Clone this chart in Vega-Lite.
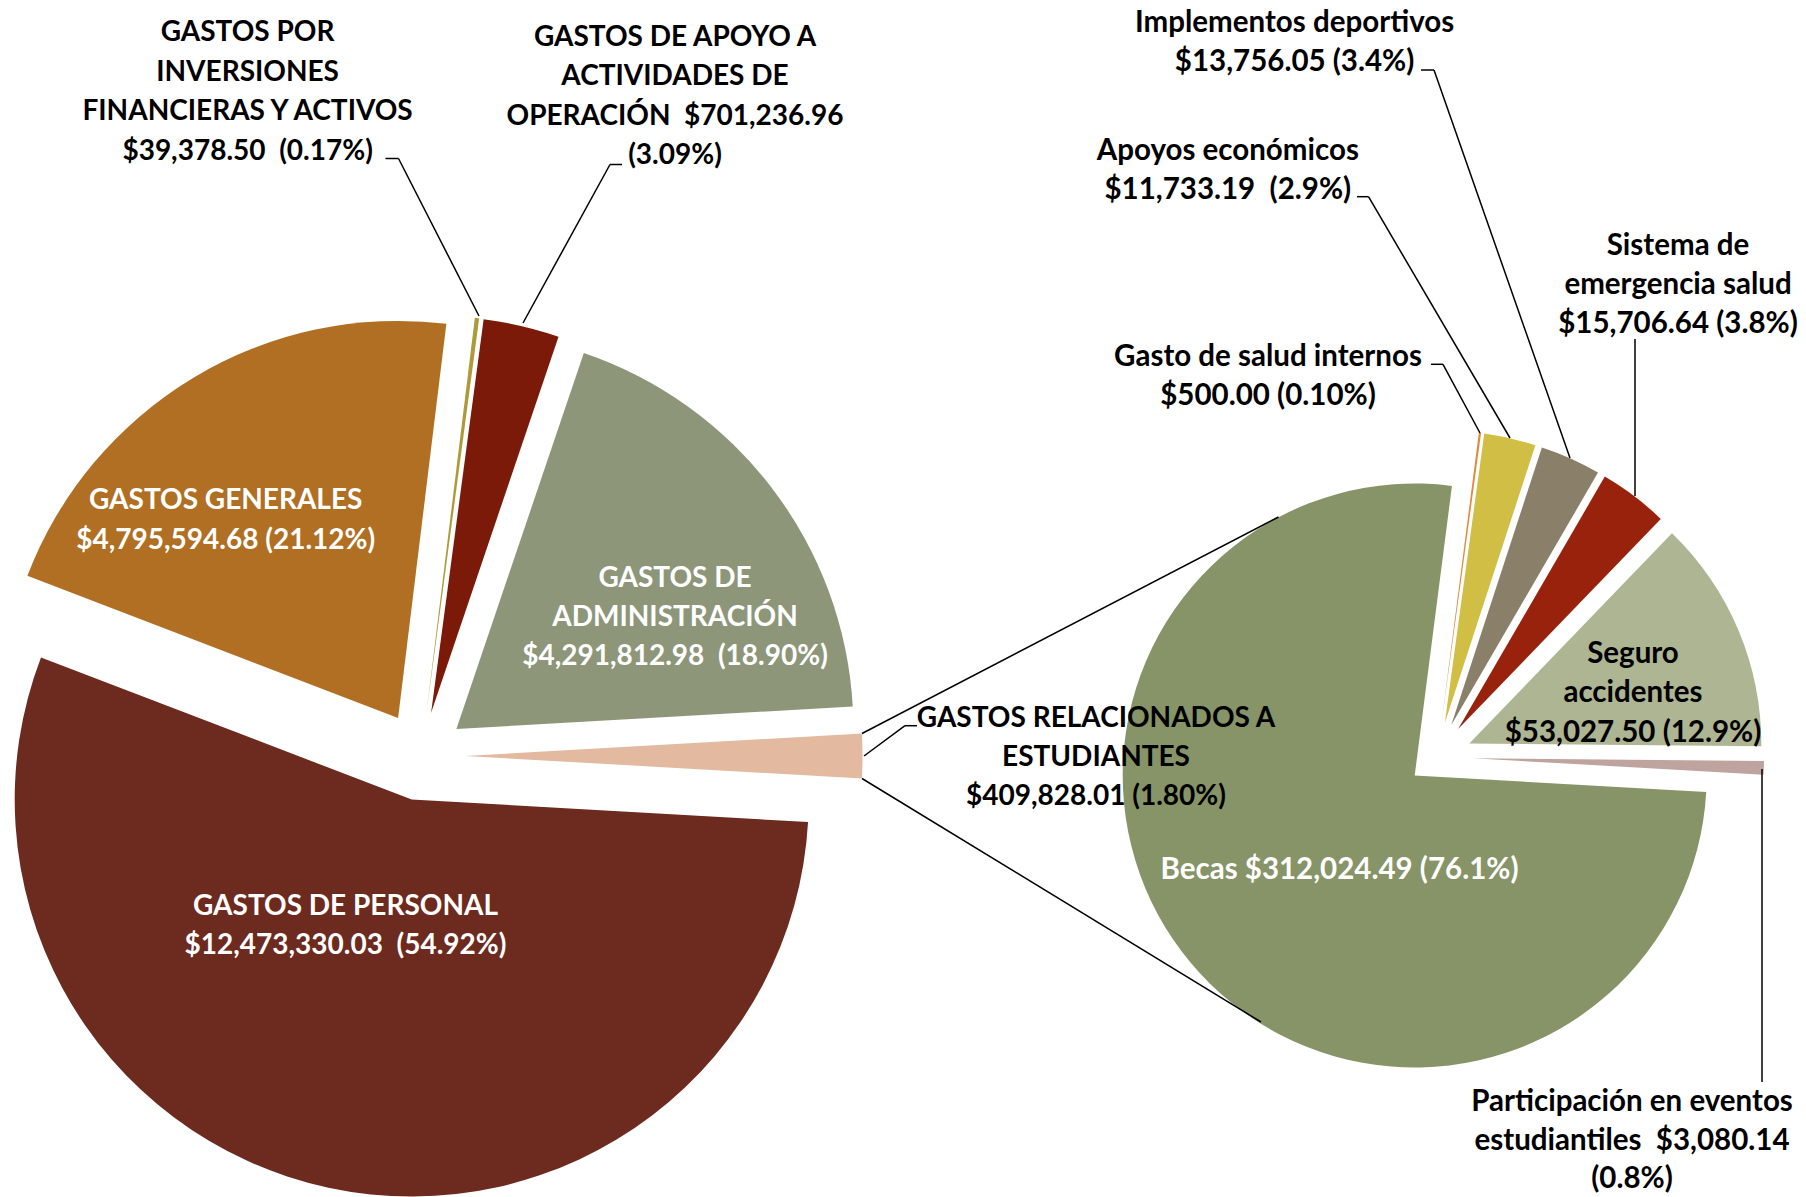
{
  "$schema": "https://vega.github.io/schema/vega-lite/v6.json",
  "width": 1806,
  "height": 1197,
  "autosize": {"type": "none"},
  "padding": 0,
  "background": "white",
  "config": {
    "view": {"stroke": null},
    "text": {"font": "Lato", "fontWeight": "bold", "fontSize": 28, "lineHeight": 39.4, "lineBreak": "\n", "align": "center", "baseline": "middle"},
    "rule": {"color": "black", "strokeWidth": 1.5}
  },
  "datasets": {
    "main": [
      {"order": 1, "name": "Estudiantes", "value": 409828.01, "label": "GASTOS RELACIONADOS A\nESTUDIANTES\n$409,828.01 (1.80%)"},
      {"order": 2, "name": "Personal", "value": 12473330.03, "label": "GASTOS DE PERSONAL\n$12,473,330.03\u00a0 (54.92%)"},
      {"order": 3, "name": "Generales", "value": 4795594.68, "label": "GASTOS GENERALES\n$4,795,594.68 (21.12%)"},
      {"order": 4, "name": "Inversiones", "value": 39378.50, "label": "GASTOS POR\nINVERSIONES\nFINANCIERAS Y ACTIVOS\n$39,378.50\u00a0 (0.17%)"},
      {"order": 5, "name": "Apoyo", "value": 701236.96, "label": "GASTOS DE APOYO A\nACTIVIDADES DE\nOPERACIÓN\u00a0 $701,236.96\n(3.09%)"},
      {"order": 6, "name": "Administracion", "value": 4291812.98, "label": "GASTOS DE\nADMINISTRACIÓN\n$4,291,812.98\u00a0 (18.90%)"}
    ],
    "sub": [
      {"order": 1, "name": "Becas", "value": 312024.49, "label": "Becas $312,024.49 (76.1%)"},
      {"order": 2, "name": "Salud", "value": 500.00, "label": "Gasto de salud internos\n$500.00 (0.10%)"},
      {"order": 3, "name": "Apoyos", "value": 11733.19, "label": "Apoyos económicos\n$11,733.19\u00a0 (2.9%)"},
      {"order": 4, "name": "Implementos", "value": 13756.05, "label": "Implementos deportivos\n$13,756.05 (3.4%)"},
      {"order": 5, "name": "Sistema", "value": 15706.64, "label": "Sistema de\nemergencia salud\n$15,706.64 (3.8%)"},
      {"order": 6, "name": "Seguro", "value": 53027.50, "label": "Seguro\naccidentes\n$53,027.50 (12.9%)"},
      {"order": 7, "name": "Participacion", "value": 3080.14, "label": "Participación en eventos\nestudiantiles\u00a0 $3,080.14\n(0.8%)"}
    ]
  },
  "resolve": {"scale": {"theta": "independent"}},
  "layer": [
    {
      "data": {"name": "main"},
      "transform": [{"stack": "value", "groupby": [], "sort": [{"field": "order", "order": "ascending"}], "offset": "normalize", "as": ["s", "e"]}],
      "layer": [
        {"transform": [{"filter": "datum.name === 'Estudiantes'"}],
         "mark": {"type": "arc", "x": 465.5, "y": 756.0, "outerRadius": 397, "color": "#E3B9A0"},
         "encoding": {"theta": {"field": "s", "type": "quantitative", "scale": {"domain": [0, 1], "range": [1.514112, 7.797297]}}, "theta2": {"field": "e"}}},
        {"transform": [{"filter": "datum.name === 'Personal'"}],
         "mark": {"type": "arc", "x": 411.7, "y": 799.5, "outerRadius": 397, "color": "#6D2A1E"},
         "encoding": {"theta": {"field": "s", "type": "quantitative", "scale": {"domain": [0, 1], "range": [1.514112, 7.797297]}}, "theta2": {"field": "e"}}},
        {"transform": [{"filter": "datum.name === 'Generales'"}],
         "mark": {"type": "arc", "x": 398.1, "y": 717.9, "outerRadius": 397, "color": "#B06F22"},
         "encoding": {"theta": {"field": "s", "type": "quantitative", "scale": {"domain": [0, 1], "range": [1.514112, 7.797297]}}, "theta2": {"field": "e"}}},
        {"transform": [{"filter": "datum.name === 'Inversiones'"}],
         "mark": {"type": "arc", "x": 426.6, "y": 711.9, "outerRadius": 397, "color": "#AD9B3A"},
         "encoding": {"theta": {"field": "s", "type": "quantitative", "scale": {"domain": [0, 1], "range": [1.514112, 7.797297]}}, "theta2": {"field": "e"}}},
        {"transform": [{"filter": "datum.name === 'Apoyo'"}],
         "mark": {"type": "arc", "x": 431.1, "y": 712.7, "outerRadius": 397, "color": "#7B1A08"},
         "encoding": {"theta": {"field": "s", "type": "quantitative", "scale": {"domain": [0, 1], "range": [1.514112, 7.797297]}}, "theta2": {"field": "e"}}},
        {"transform": [{"filter": "datum.name === 'Administracion'"}],
         "mark": {"type": "arc", "x": 456.4, "y": 729.0, "outerRadius": 397, "color": "#8D9679"},
         "encoding": {"theta": {"field": "s", "type": "quantitative", "scale": {"domain": [0, 1], "range": [1.514112, 7.797297]}}, "theta2": {"field": "e"}}}
      ]
    },
    {
      "data": {"name": "sub"},
      "transform": [{"stack": "value", "groupby": [], "sort": [{"field": "order", "order": "ascending"}], "offset": "normalize", "as": ["s", "e"]}],
      "layer": [
        {"transform": [{"filter": "datum.name === 'Becas'"}],
         "mark": {"type": "arc", "x": 1414.7, "y": 775.5, "outerRadius": 292, "color": "#879467"},
         "encoding": {"theta": {"field": "s", "type": "quantitative", "scale": {"domain": [0, 1], "range": [1.627345, 7.910530]}}, "theta2": {"field": "e"}}},
        {"transform": [{"filter": "datum.name === 'Salud'"}],
         "mark": {"type": "arc", "x": 1441.6, "y": 722.3, "outerRadius": 292, "color": "#DF8A3A"},
         "encoding": {"theta": {"field": "s", "type": "quantitative", "scale": {"domain": [0, 1], "range": [1.627345, 7.910530]}}, "theta2": {"field": "e"}}},
        {"transform": [{"filter": "datum.name === 'Apoyos'"}],
         "mark": {"type": "arc", "x": 1444.8, "y": 722.9, "outerRadius": 292, "color": "#D0BE45"},
         "encoding": {"theta": {"field": "s", "type": "quantitative", "scale": {"domain": [0, 1], "range": [1.627345, 7.910530]}}, "theta2": {"field": "e"}}},
        {"transform": [{"filter": "datum.name === 'Implementos'"}],
         "mark": {"type": "arc", "x": 1451.3, "y": 725.1, "outerRadius": 292, "color": "#8A7F69"},
         "encoding": {"theta": {"field": "s", "type": "quantitative", "scale": {"domain": [0, 1], "range": [1.627345, 7.910530]}}, "theta2": {"field": "e"}}},
        {"transform": [{"filter": "datum.name === 'Sistema'"}],
         "mark": {"type": "arc", "x": 1458.1, "y": 729.1, "outerRadius": 292, "color": "#99220D"},
         "encoding": {"theta": {"field": "s", "type": "quantitative", "scale": {"domain": [0, 1], "range": [1.627345, 7.910530]}}, "theta2": {"field": "e"}}},
        {"transform": [{"filter": "datum.name === 'Seguro'"}],
         "mark": {"type": "arc", "x": 1469.3, "y": 743.5, "outerRadius": 292, "color": "#ADB593"},
         "encoding": {"theta": {"field": "s", "type": "quantitative", "scale": {"domain": [0, 1], "range": [1.627345, 7.910530]}}, "theta2": {"field": "e"}}},
        {"transform": [{"filter": "datum.name === 'Participacion'"}],
         "mark": {"type": "arc", "x": 1472.0, "y": 758.2, "outerRadius": 292, "color": "#BFA39E"},
         "encoding": {"theta": {"field": "s", "type": "quantitative", "scale": {"domain": [0, 1], "range": [1.627345, 7.910530]}}, "theta2": {"field": "e"}}}
      ]
    },
    {
      "data": {"name": "main"},
      "layer": [
        {"transform": [{"filter": "datum.name === 'Estudiantes'"}],
         "layer": [
           {"mark": {"type": "text", "x": 1096, "y": 718.5, "color": "black"}, "encoding": {"text": {"field": "label", "type": "nominal"}}},
           {"mark": {"type": "rule"}, "encoding": {"x": {"value": 905}, "y": {"value": 725.7}, "x2": {"value": 917}, "y2": {"value": 725.7}}},
           {"mark": {"type": "rule"}, "encoding": {"x": {"value": 905}, "y": {"value": 725.7}, "x2": {"value": 864}, "y2": {"value": 756}}},
           {"mark": {"type": "rule"}, "encoding": {"x": {"value": 862}, "y": {"value": 733.5}, "x2": {"value": 1278.5}, "y2": {"value": 517}}},
           {"mark": {"type": "rule"}, "encoding": {"x": {"value": 862}, "y": {"value": 778.5}, "x2": {"value": 1261}, "y2": {"value": 1022}}}
         ]},
        {"transform": [{"filter": "datum.name === 'Personal'"}],
         "mark": {"type": "text", "x": 345.5, "y": 906.5, "color": "white"}, "encoding": {"text": {"field": "label", "type": "nominal"}}},
        {"transform": [{"filter": "datum.name === 'Generales'"}],
         "mark": {"type": "text", "x": 225.7, "y": 501.2, "color": "white"}, "encoding": {"text": {"field": "label", "type": "nominal"}}},
        {"transform": [{"filter": "datum.name === 'Inversiones'"}],
         "layer": [
           {"mark": {"type": "text", "x": 247.6, "y": 33.4, "color": "black"}, "encoding": {"text": {"field": "label", "type": "nominal"}}},
           {"mark": {"type": "rule"}, "encoding": {"x": {"value": 385.5}, "y": {"value": 158.5}, "x2": {"value": 398.5}, "y2": {"value": 158.5}}},
           {"mark": {"type": "rule"}, "encoding": {"x": {"value": 398.5}, "y": {"value": 158.5}, "x2": {"value": 479}, "y2": {"value": 316}}}
         ]},
        {"transform": [{"filter": "datum.name === 'Apoyo'"}],
         "layer": [
           {"mark": {"type": "text", "x": 675, "y": 38, "color": "black"}, "encoding": {"text": {"field": "label", "type": "nominal"}}},
           {"mark": {"type": "rule"}, "encoding": {"x": {"value": 610}, "y": {"value": 164.5}, "x2": {"value": 622}, "y2": {"value": 164.5}}},
           {"mark": {"type": "rule"}, "encoding": {"x": {"value": 610}, "y": {"value": 164.5}, "x2": {"value": 523}, "y2": {"value": 323}}}
         ]},
        {"transform": [{"filter": "datum.name === 'Administracion'"}],
         "mark": {"type": "text", "x": 675, "y": 578.5, "color": "white"}, "encoding": {"text": {"field": "label", "type": "nominal"}}}
      ]
    },
    {
      "data": {"name": "sub"},
      "layer": [
        {"transform": [{"filter": "datum.name === 'Becas'"}],
         "mark": {"type": "text", "x": 1339.5, "y": 869.5, "color": "white", "fontSize": 29.5}, "encoding": {"text": {"field": "label", "type": "nominal"}}},
        {"transform": [{"filter": "datum.name === 'Salud'"}],
         "layer": [
           {"mark": {"type": "text", "x": 1268, "y": 357, "color": "black", "fontSize": 29.5}, "encoding": {"text": {"field": "label", "type": "nominal"}}},
           {"mark": {"type": "rule"}, "encoding": {"x": {"value": 1431}, "y": {"value": 364.3}, "x2": {"value": 1443}, "y2": {"value": 364.3}}},
           {"mark": {"type": "rule"}, "encoding": {"x": {"value": 1443}, "y": {"value": 364.3}, "x2": {"value": 1480}, "y2": {"value": 433}}}
         ]},
        {"transform": [{"filter": "datum.name === 'Apoyos'"}],
         "layer": [
           {"mark": {"type": "text", "x": 1227.8, "y": 151, "color": "black", "fontSize": 29.5}, "encoding": {"text": {"field": "label", "type": "nominal"}}},
           {"mark": {"type": "rule"}, "encoding": {"x": {"value": 1357}, "y": {"value": 196.7}, "x2": {"value": 1368.5}, "y2": {"value": 196.7}}},
           {"mark": {"type": "rule"}, "encoding": {"x": {"value": 1368.5}, "y": {"value": 196.7}, "x2": {"value": 1510}, "y2": {"value": 438}}}
         ]},
        {"transform": [{"filter": "datum.name === 'Implementos'"}],
         "layer": [
           {"mark": {"type": "text", "x": 1294.6, "y": 23, "color": "black", "fontSize": 29.5}, "encoding": {"text": {"field": "label", "type": "nominal"}}},
           {"mark": {"type": "rule"}, "encoding": {"x": {"value": 1421}, "y": {"value": 70}, "x2": {"value": 1434}, "y2": {"value": 70}}},
           {"mark": {"type": "rule"}, "encoding": {"x": {"value": 1434}, "y": {"value": 70}, "x2": {"value": 1570}, "y2": {"value": 458}}}
         ]},
        {"transform": [{"filter": "datum.name === 'Sistema'"}],
         "layer": [
           {"mark": {"type": "text", "x": 1678, "y": 245.5, "color": "black", "fontSize": 29.5}, "encoding": {"text": {"field": "label", "type": "nominal"}}},
           {"mark": {"type": "rule"}, "encoding": {"x": {"value": 1635}, "y": {"value": 339}, "x2": {"value": 1635}, "y2": {"value": 496}}}
         ]},
        {"transform": [{"filter": "datum.name === 'Seguro'"}],
         "mark": {"type": "text", "x": 1633, "y": 654, "color": "black", "fontSize": 29.5}, "encoding": {"text": {"field": "label", "type": "nominal"}}},
        {"transform": [{"filter": "datum.name === 'Participacion'"}],
         "layer": [
           {"mark": {"type": "text", "x": 1632, "y": 1102, "color": "black", "fontSize": 29.5, "lineHeight": 38.5}, "encoding": {"text": {"field": "label", "type": "nominal"}}},
           {"mark": {"type": "rule"}, "encoding": {"x": {"value": 1762}, "y": {"value": 769}, "x2": {"value": 1762}, "y2": {"value": 1082}}}
         ]}
      ]
    }
  ]
}
